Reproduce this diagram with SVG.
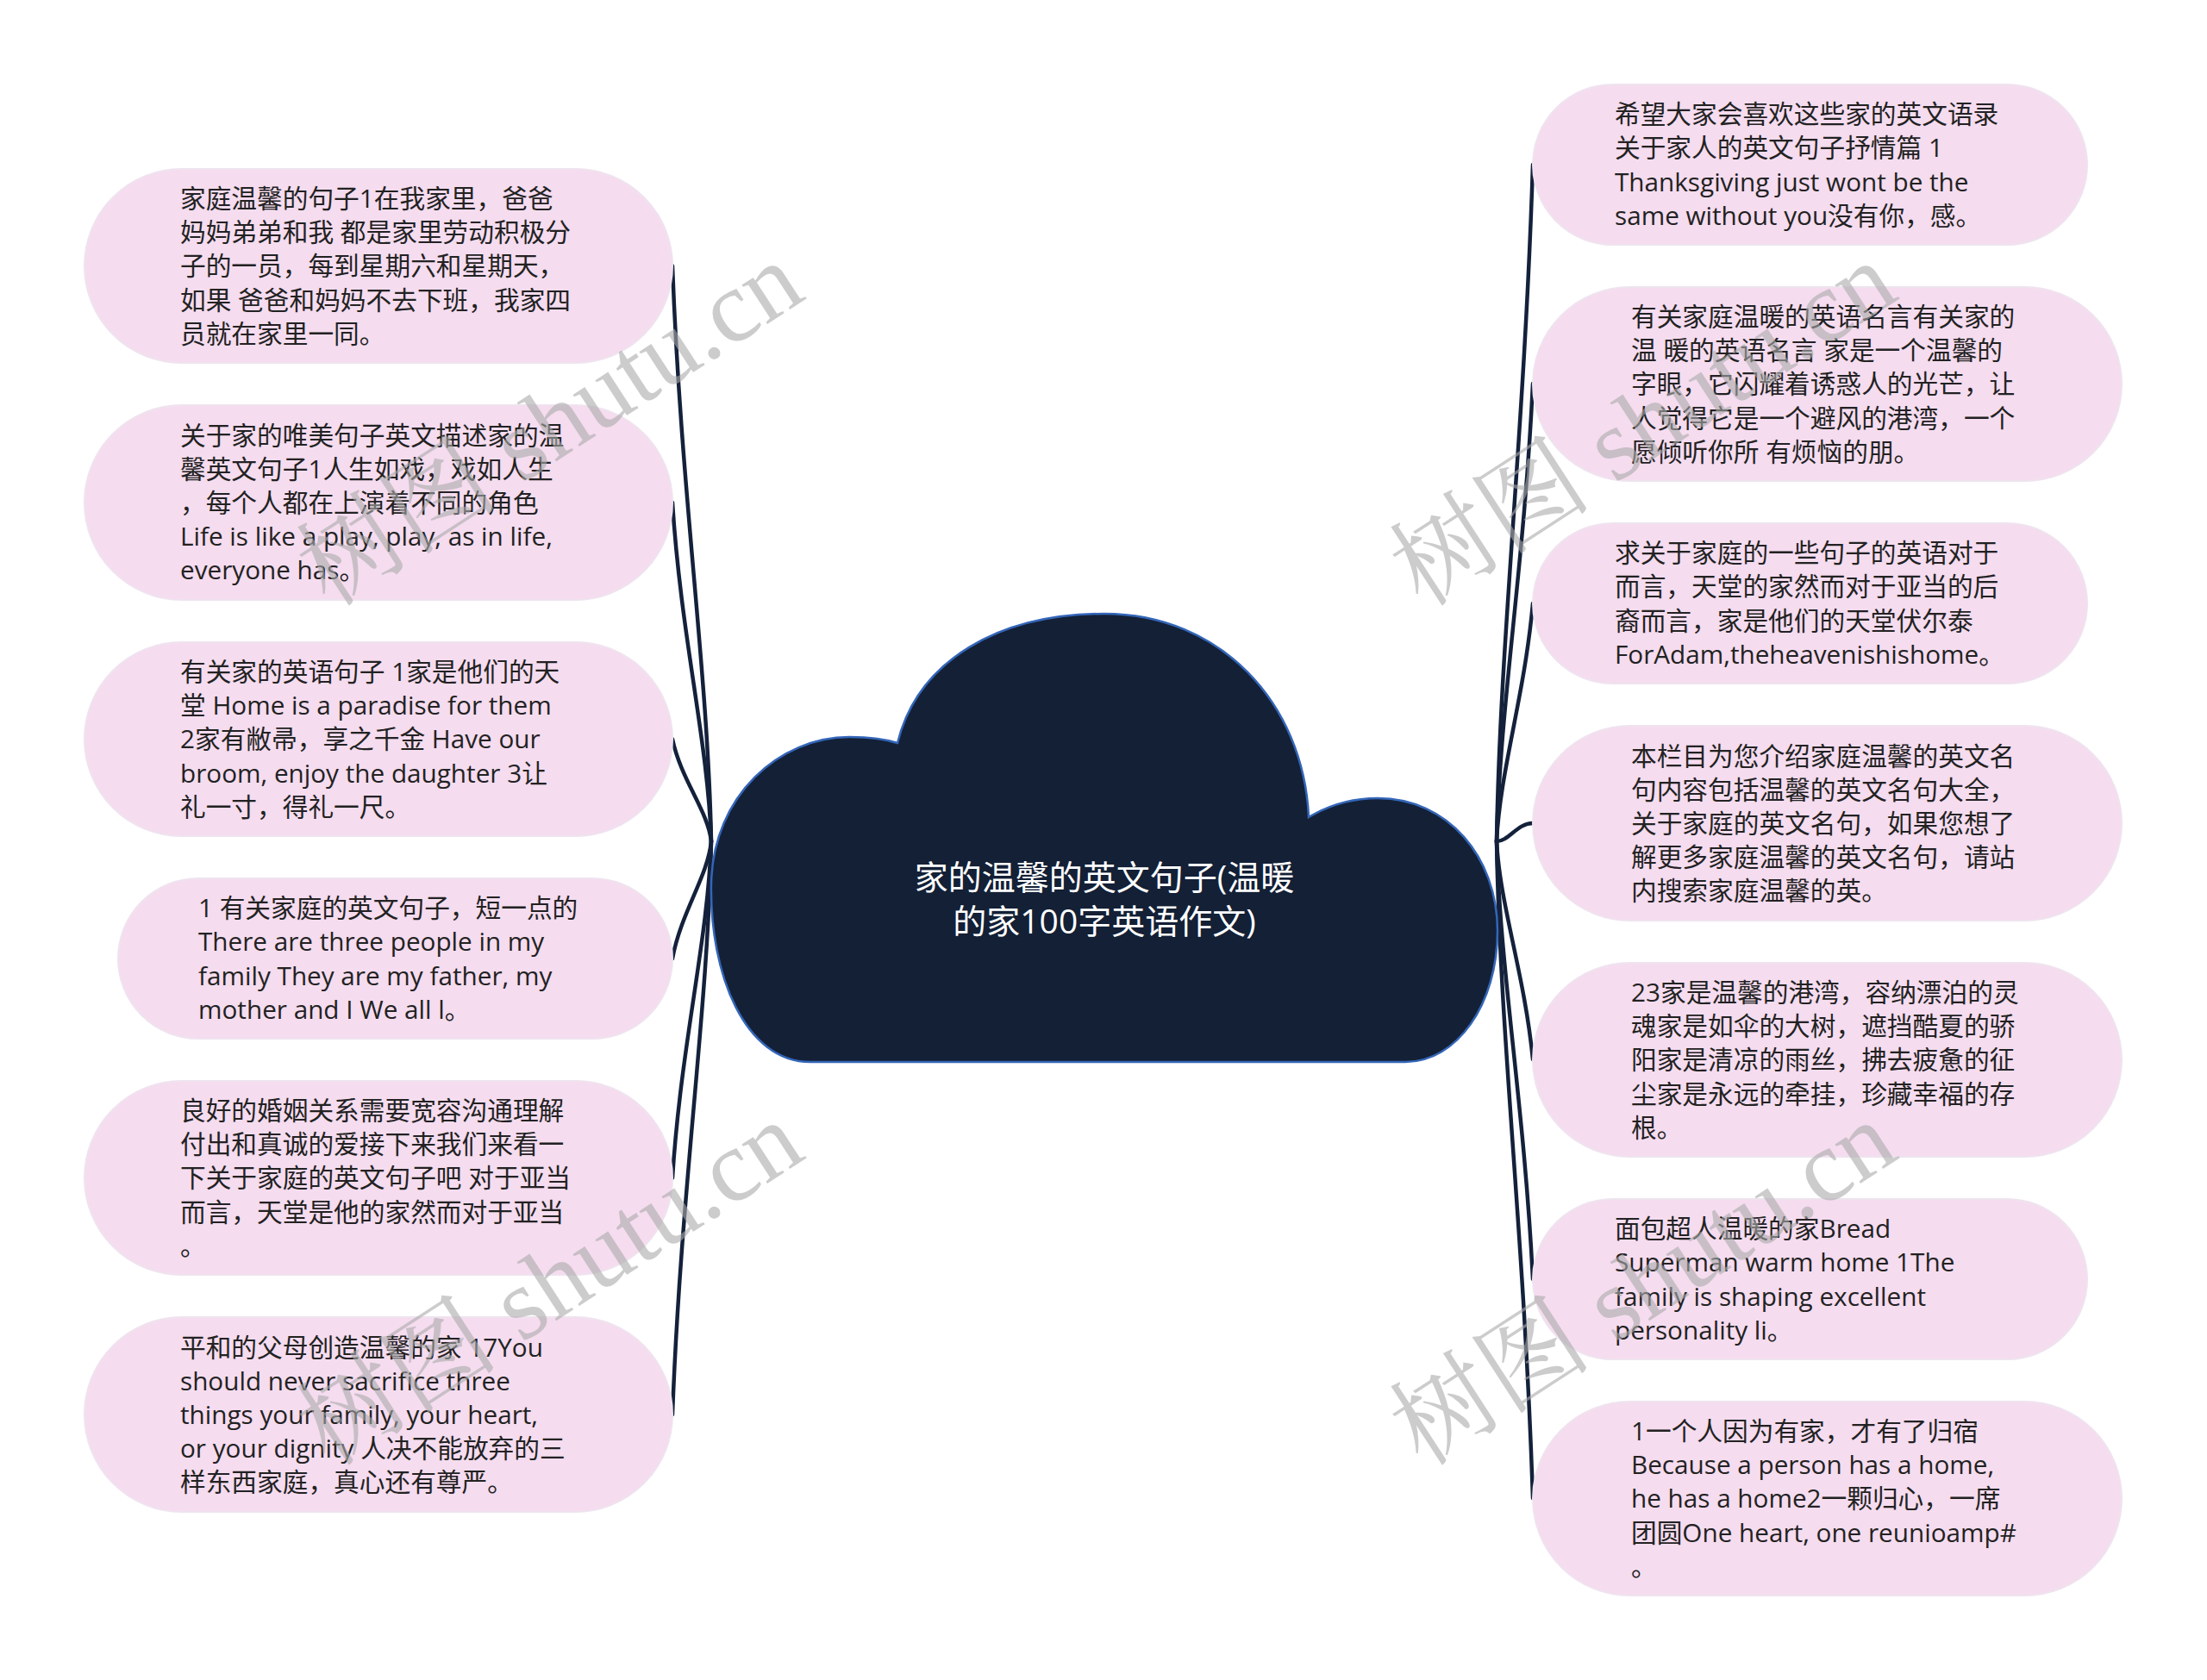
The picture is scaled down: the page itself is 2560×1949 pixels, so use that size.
<svg xmlns="http://www.w3.org/2000/svg" width="2560" height="1949" viewBox="0 0 2560 1949">
<style>
.node rect{fill:#f5dcef;stroke:#efe3ef;stroke-width:2}
.t{font-family:"Open Sans","Noto Sans CJK SC",sans-serif;font-size:29.7px;fill:#222}
.tw{font-family:"Open Sans","Noto Sans CJK SC",sans-serif;font-size:29.7px;fill:#222}
.title{font-family:"Open Sans","Noto Sans CJK SC",sans-serif;font-size:39px;fill:#fff;text-anchor:middle}
.conn path{fill:none;stroke:#14213b;stroke-width:4.5;stroke-linecap:round}
.wm{font-family:"Liberation Serif","Noto Serif CJK SC","Noto Sans CJK SC",serif;font-size:118px;fill:#aaaaaa;fill-opacity:0.6}
</style>
<rect width="2560" height="1949" fill="#fff"/>

<g id="connectors" class="conn">
<path d="M780 308.5 C790 575 821 776 825 976"/>
<path d="M780 583 C790 740 821 858 825 976"/>
<path d="M780 857.5 C790 905 821 940 825 976"/>
<path d="M780 1112 C790 1058 821 1017 825 976"/>
<path d="M780 1366.5 C790 1210 821 1093 825 976"/>
<path d="M780 1641 C790 1375 821 1176 825 976"/>
<path d="M1778 191 C1768 505 1740 740 1736 976"/>
<path d="M1778 445 C1768 657 1740 817 1736 976"/>
<path d="M1778 700 C1768 810 1740 893 1736 976"/>
<path d="M1778 955 C1760 955 1750 976 1736 976"/>
<path d="M1778 1229 C1768 1128 1740 1052 1736 976"/>
<path d="M1778 1484 C1768 1281 1740 1128 1736 976"/>
<path d="M1778 1738 C1768 1433 1740 1205 1736 976"/>
</g>

<g id="center">
<path d="M940 1232 C864 1232 823 1130 825 1025 C827 922 905 855 985 855 C1008 855 1028 858 1041 862 C1065 765 1160 712 1281 712 C1415 712 1512 815 1518 948 C1545 932 1572 926 1598 926 C1680 926 1737 995 1737 1080 C1737 1165 1690 1232 1630 1232 Z" fill="#132036" stroke="#3466b8" stroke-width="2.5"/>
<text class="title" x="1281" y="1032">家的温馨的英文句子(温暖</text>
<text class="title" x="1281" y="1083">的家100字英语作文)</text>
</g>

<g id="L1" class="node"><rect x="98" y="196" width="682" height="225" rx="112.5"/>
<text class="t"><tspan x="209" y="241">家庭温馨的句子1在我家里，爸爸</tspan><tspan x="209" y="280.2">妈妈弟弟和我 都是家里劳动积极分</tspan><tspan x="209" y="319.4">子的一员，每到星期六和星期天，</tspan><tspan x="209" y="358.6">如果 爸爸和妈妈不去下班，我家四</tspan><tspan x="209" y="397.8">员就在家里一同。</tspan></text></g>

<g id="L2" class="node"><rect x="98" y="470" width="682" height="226" rx="113"/>
<text class="t"><tspan x="209" y="515.6">关于家的唯美句子英文描述家的温</tspan><tspan x="209" y="554.8">馨英文句子1人生如戏，戏如人生</tspan><tspan x="209" y="594">，每个人都在上演着不同的角色</tspan><tspan x="209" y="633.2">Life is like a play, play, as in life,</tspan><tspan x="209" y="672.4">everyone has。</tspan></text></g>

<g id="L3" class="node"><rect x="98" y="745" width="682" height="225" rx="112.5"/>
<text class="t"><tspan x="209" y="790">有关家的英语句子 1家是他们的天</tspan><tspan x="209" y="829.2">堂 Home is a paradise for them</tspan><tspan x="209" y="868.4">2家有敝帚，享之千金 Have our</tspan><tspan x="209" y="907.6">broom, enjoy the daughter 3让</tspan><tspan x="209" y="946.8">礼一寸，得礼一尺。</tspan></text></g>

<g id="L4" class="node"><rect x="137" y="1019" width="643" height="186" rx="93"/>
<text class="t"><tspan x="230" y="1064.2">1 有关家庭的英文句子，短一点的</tspan><tspan x="230" y="1103.4">There are three people in my</tspan><tspan x="230" y="1142.6">family They are my father, my</tspan><tspan x="230" y="1181.8">mother and I We all l。</tspan></text></g>

<g id="L5" class="node"><rect x="98" y="1254" width="682" height="225" rx="112.5"/>
<text class="t"><tspan x="209" y="1299">良好的婚姻关系需要宽容沟通理解</tspan><tspan x="209" y="1338.2">付出和真诚的爱接下来我们来看一</tspan><tspan x="209" y="1377.4">下关于家庭的英文句子吧 对于亚当</tspan><tspan x="209" y="1416.6">而言，天堂是他的家然而对于亚当</tspan><tspan x="209" y="1455.8">。</tspan></text></g>

<g id="L6" class="node"><rect x="98" y="1528" width="682" height="226" rx="113"/>
<text class="t"><tspan x="209" y="1573.6">平和的父母创造温馨的家 17You</tspan><tspan x="209" y="1612.8">should never sacrifice three</tspan><tspan x="209" y="1652">things your family, your heart,</tspan><tspan x="209" y="1691.2">or your dignity 人决不能放弃的三</tspan><tspan x="209" y="1730.4">样东西家庭，真心还有尊严。</tspan></text></g>

<g id="R1" class="node"><rect x="1778" y="98" width="643" height="186" rx="93"/>
<text class="t"><tspan x="1873" y="143.2">希望大家会喜欢这些家的英文语录</tspan><tspan x="1873" y="182.4">关于家人的英文句子抒情篇 1</tspan><tspan x="1873" y="221.6">Thanksgiving just wont be the</tspan><tspan x="1873" y="260.8">same without you没有你，感。</tspan></text></g>

<g id="R2" class="node"><rect x="1778" y="333" width="683" height="225" rx="112.5"/>
<text class="t"><tspan x="1892" y="378">有关家庭温暖的英语名言有关家的</tspan><tspan x="1892" y="417.2">温 暖的英语名言 家是一个温馨的</tspan><tspan x="1892" y="456.4">字眼，它闪耀着诱惑人的光芒，让</tspan><tspan x="1892" y="495.6">人觉得它是一个避风的港湾，一个</tspan><tspan x="1892" y="534.8">愿倾听你所 有烦恼的朋。</tspan></text></g>

<g id="R3" class="node"><rect x="1778" y="607" width="643" height="186" rx="93"/>
<text class="t"><tspan x="1873" y="652.2">求关于家庭的一些句子的英语对于</tspan><tspan x="1873" y="691.4">而言，天堂的家然而对于亚当的后</tspan><tspan x="1873" y="730.6">裔而言，家是他们的天堂伏尔泰</tspan><tspan x="1873" y="769.8">ForAdam,theheavenishishome。</tspan></text></g>

<g id="R4" class="node"><rect x="1778" y="842" width="683" height="226" rx="113"/>
<text class="t"><tspan x="1892" y="887.6">本栏目为您介绍家庭温馨的英文名</tspan><tspan x="1892" y="926.8">句内容包括温馨的英文名句大全，</tspan><tspan x="1892" y="966">关于家庭的英文名句，如果您想了</tspan><tspan x="1892" y="1005.2">解更多家庭温馨的英文名句，请站</tspan><tspan x="1892" y="1044.4">内搜索家庭温馨的英。</tspan></text></g>

<g id="R5" class="node"><rect x="1778" y="1117" width="683" height="225" rx="112.5"/>
<text class="tw"><tspan x="1892" y="1162">23家是温馨的港湾，容纳漂泊的灵</tspan><tspan x="1892" y="1201.2">魂家是如伞的大树，遮挡酷夏的骄</tspan><tspan x="1892" y="1240.4">阳家是清凉的雨丝，拂去疲惫的征</tspan><tspan x="1892" y="1279.6">尘家是永远的牵挂，珍藏幸福的存</tspan><tspan x="1892" y="1318.8">根。</tspan></text></g>

<g id="R6" class="node"><rect x="1778" y="1391" width="643" height="186" rx="93"/>
<text class="tw"><tspan x="1873" y="1436.2">面包超人温暖的家Bread</tspan><tspan x="1873" y="1475.4">Superman warm home 1The</tspan><tspan x="1873" y="1514.6">family is shaping excellent</tspan><tspan x="1873" y="1553.8">personality li。</tspan></text></g>

<g id="R7" class="node"><rect x="1778" y="1626" width="683" height="225" rx="112.5"/>
<text class="tw"><tspan x="1892" y="1671">1一个人因为有家，才有了归宿</tspan><tspan x="1892" y="1710.2">Because a person has a home,</tspan><tspan x="1892" y="1749.4">he has a home2一颗归心，一席</tspan><tspan x="1892" y="1788.6">团圆One heart, one reunioamp#</tspan><tspan x="1892" y="1827.8">。</tspan></text></g>

<g id="watermarks">
<text class="wm" transform="translate(382 706) rotate(-33)">树图 shutu.cn</text>
<text class="wm" transform="translate(382 1703) rotate(-33)">树图 shutu.cn</text>
<text class="wm" transform="translate(1650 706) rotate(-33)">树图 shutu.cn</text>
<text class="wm" transform="translate(1650 1703) rotate(-33)">树图 shutu.cn</text>
</g>
</svg>
